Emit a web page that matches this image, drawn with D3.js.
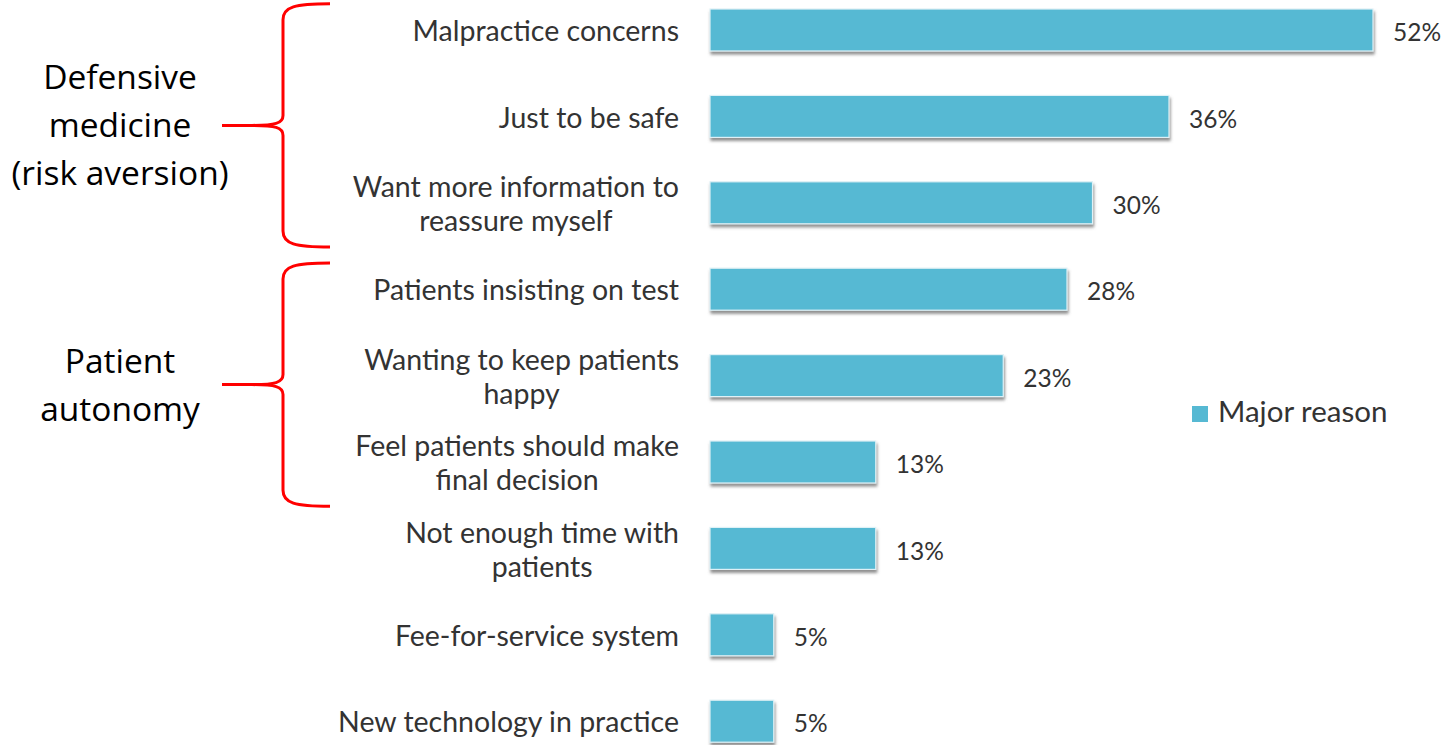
<!DOCTYPE html>
<html>
<head>
<meta charset="utf-8">
<script src="https://cdn.jsdelivr.net/npm/d3@7/dist/d3.min.js"></script>
<style>
  html, body { margin: 0; padding: 0; background: #fff; }
  svg { display: block; }
</style>
</head>
<body>
<svg id="chart" width="1443" height="745"></svg>
<script>
// Reasons physicians order unnecessary tests — share citing each as a "major reason"
const categories = [
  "Malpractice concerns",
  "Just to be safe",
  "Want more information to\nreassure myself",
  "Patients insisting on test",
  "Wanting to keep patients\nhappy",
  "Feel patients should make\nfinal decision",
  "Not enough time with\npatients",
  "Fee-for-service system",
  "New technology in practice"
];
const majorReason = [52, 36, 30, 28, 23, 13, 13, 5, 5];
const seriesName = "Major reason";

// Groupings marked with braces on the left
const groupLabels = [["Defensive", "medicine", "(risk aversion)"], ["Patient", "autonomy"]];
const groupSpans = [[0, 2], [3, 5]];

const svg = d3.select("#chart");
const barColor = "#56b9d3";
const textColor = "#333333";

const x = d3.scaleLinear().domain([0, 100]).range([710, 1985]);
const y = d3.scaleBand()
  .domain(categories)
  .range([-13.2, 764.4])
  .paddingInner(0.514)
  .paddingOuter(0.257);

// soft drop shadow under each bar
const defs = svg.append("defs");
const f = defs.append("filter").attr("id", "shadow")
  .attr("x", "-5%").attr("y", "-20%").attr("width", "115%").attr("height", "160%");
f.append("feDropShadow")
  .attr("dx", 1).attr("dy", 3).attr("stdDeviation", 1.6)
  .attr("flood-color", "#6b6b6b").attr("flood-opacity", 0.75);

// bars
svg.append("g").selectAll("rect")
  .data(categories)
  .join("rect")
  .attr("x", x(0))
  .attr("y", d => y(d))
  .attr("width", (d, i) => x(majorReason[i]) - x(0))
  .attr("height", y.bandwidth())
  .attr("fill", barColor)
  .attr("stroke", "#dff1f6")
  .attr("stroke-width", 1.2)
  .attr("filter", "url(#shadow)");

// value labels
svg.append("g").selectAll("text")
  .data(categories)
  .join("text")
  .attr("x", (d, i) => x(majorReason[i]) + 20)
  .attr("y", d => y(d) + y.bandwidth() / 2 + 5)
  .attr("dominant-baseline", "middle")
  .attr("font-family", "Lato, 'Open Sans', sans-serif")
  .attr("font-size", 24.5)
  .attr("fill", textColor)
  .text((d, i) => majorReason[i] + "%");

// category labels: block right-aligned, lines centred within the block
const labelRight = 679;
const lineGap = 34;
const catG = svg.append("g")
  .attr("font-family", "Lato, 'Open Sans', sans-serif")
  .attr("font-size", 28.5)
  .attr("fill", textColor);

categories.forEach(cat => {
  const lines = cat.split("\n");
  const t = catG.append("text").attr("text-anchor", "middle");
  const cy = y(cat) + y.bandwidth() / 2 + 4;
  const spans = lines.map((ln, j) =>
    t.append("tspan")
      .attr("y", cy + (j - (lines.length - 1) / 2) * lineGap)
      .attr("dominant-baseline", "middle")
      .text(ln));
  const widths = spans.map(s => s.node().getComputedTextLength());
  const maxW = d3.max(widths);
  spans.forEach(s => s.attr("x", labelRight - maxW / 2));
});

// legend
const legend = svg.append("g").attr("transform", "translate(1192,414)");
legend.append("rect")
  .attr("x", 0).attr("y", -8).attr("width", 16).attr("height", 16)
  .attr("fill", barColor);
legend.append("text")
  .attr("x", 26).attr("y", 1)
  .attr("dominant-baseline", "middle")
  .attr("font-family", "Lato, 'Open Sans', sans-serif")
  .attr("font-size", 29.5)
  .attr("fill", textColor)
  .text(seriesName);

// braces and group labels
const braceG = svg.append("g");
const braceRight = 330, braceSpine = 283, braceTip = 222;

function bracePath(y0, y1) {
  const ym = (y0 + y1) / 2;
  return `M${braceRight},${y0}` +
    `C${braceSpine + 12},${y0} ${braceSpine},${y0 + 3} ${braceSpine},${y0 + 16}` +
    `L${braceSpine},${ym - 10}` +
    `C${braceSpine},${ym - 2} ${braceSpine - 8},${ym} ${braceTip + 30},${ym}` +
    `L${braceTip},${ym}` +
    `M${braceTip + 30},${ym}` +
    `C${braceSpine - 8},${ym} ${braceSpine},${ym + 2} ${braceSpine},${ym + 10}` +
    `L${braceSpine},${y1 - 16}` +
    `C${braceSpine},${y1 - 3} ${braceSpine + 12},${y1} ${braceRight},${y1}`;
}

groupSpans.forEach((span, gi) => {
  const step = y.step();
  const y0 = y(categories[span[0]]) + y.bandwidth() / 2 - step / 2 + 17;
  const y1 = y(categories[span[1]]) + y.bandwidth() / 2 + step / 2 + 1;
  braceG.append("path")
    .attr("d", bracePath(y0, y1))
    .attr("fill", "none")
    .attr("stroke", "#ff0000")
    .attr("stroke-width", 3);

  const lines = groupLabels[gi];
  const ym = (y0 + y1) / 2 + 3;
  const gap = 48;
  const t = braceG.append("text")
    .attr("text-anchor", "middle")
    .attr("font-family", "'Open Sans', 'Noto Sans', sans-serif")
    .attr("font-size", 33.5)
    .attr("fill", "#000");
  lines.forEach((ln, j) => {
    t.append("tspan")
      .attr("x", 120)
      .attr("y", ym + (j - (lines.length - 1) / 2) * gap)
      .attr("dominant-baseline", "middle")
      .text(ln);
  });
});
</script>
</body>
</html>
